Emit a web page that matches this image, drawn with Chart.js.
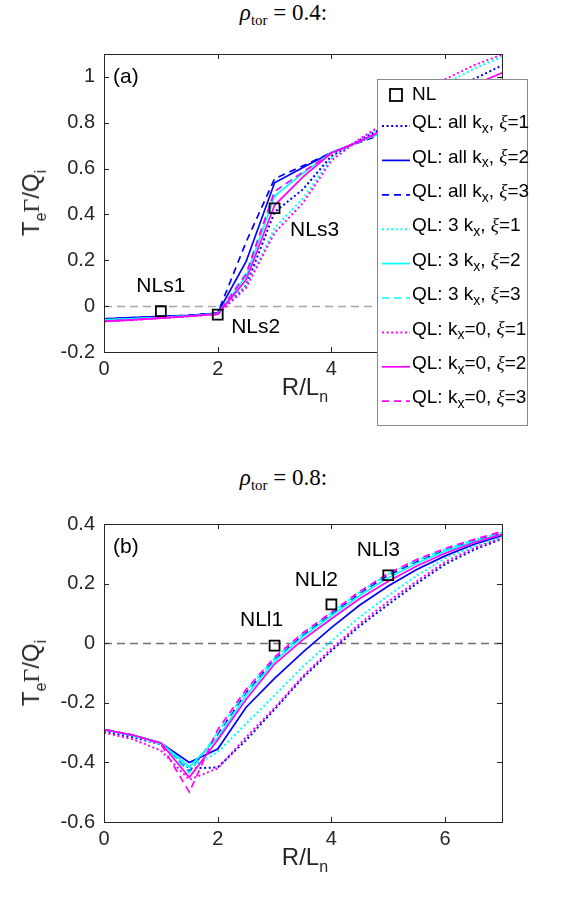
<!DOCTYPE html>
<html><head><meta charset="utf-8">
<script src="https://cdn.jsdelivr.net/npm/chart.js@4.4.0/dist/chart.umd.min.js"></script>
<style>
html,body{margin:0;padding:0;background:#fff;}
#wrap{position:relative;width:567px;height:899px;overflow:hidden;background:#fff;}
canvas{position:absolute;left:0;}
.t{position:absolute;white-space:nowrap;color:#000;line-height:1;}
.title{font-family:"Liberation Serif","DejaVu Serif",serif;font-size:23px;left:0;width:567px;text-align:center;}
.title i{font-style:italic;}
.title .sb{font-size:15px;position:relative;top:5px;}
.ax{font-family:"Liberation Sans",Arial,sans-serif;font-size:24px;color:#262626;transform:translate(-50%,-50%);}
.ax .sb{font-size:16px;position:relative;top:7px;}
.ax .g{font-family:"Liberation Serif","DejaVu Serif",serif;}
.yl{transform:translate(-50%,-50%) rotate(-90deg);}
</style>
</head><body>
<div id="wrap">
  <div class="t title" style="top:1px;"><i>ρ</i><span class="sb">tor</span> = 0.4:</div>
  <div class="t title" style="top:466px;"><i>ρ</i><span class="sb">tor</span> = 0.8:</div>
  <canvas id="c1" width="567" height="450" style="top:0;"></canvas>
  <canvas id="c2" width="567" height="449" style="top:450px;"></canvas>
  <div class="t ax yl" style="left:31px;top:203px;">T<span class="sb">e</span><span class="g">Γ</span>/Q<span class="sb">i</span></div>
  <div class="t ax yl" style="left:31px;top:673px;">T<span class="sb">e</span><span class="g">Γ</span>/Q<span class="sb">i</span></div>
  <div class="t ax" style="left:305px;top:387px;">R/L<span class="sb">n</span></div>
  <div class="t ax" style="left:305px;top:857px;">R/L<span class="sb">n</span></div>
</div>
<script>
// ---------------- DATA ----------------
const xGrid = [0, 0.5, 1, 1.5, 2, 2.5, 3, 3.5, 4, 4.5, 5, 5.5, 6, 6.5, 7];
const xTicks = [0, 2, 4, 6];
const yTicksTop = [-0.2, 0, 0.2, 0.4, 0.6, 0.8, 1];
const yTicksBot = [-0.6, -0.4, -0.2, 0, 0.2, 0.4];

const seriesNames = [
  'QL: all k_x, ξ=1', 'QL: all k_x, ξ=2', 'QL: all k_x, ξ=3',
  'QL: 3 k_x, ξ=1', 'QL: 3 k_x, ξ=2', 'QL: 3 k_x, ξ=3',
  'QL: k_x=0, ξ=1', 'QL: k_x=0, ξ=2', 'QL: k_x=0, ξ=3'
];

// panel (a): rho_tor = 0.4
const topAllXi1 = [-0.058,-0.053,-0.048,-0.042,-0.033,0.09,0.41,0.51,0.655,0.725,0.79,0.87,0.94,0.99,1.05];
const topAllXi2 = [-0.055,-0.05,-0.045,-0.04,-0.03,0.195,0.538,0.605,0.67,0.718,0.77,0.825,0.88,0.93,0.98];
const topAllXi3 = [-0.055,-0.05,-0.045,-0.04,-0.03,0.28,0.556,0.612,0.67,0.715,0.76,0.815,0.87,0.92,0.97];
const top3Xi1   = [-0.06,-0.055,-0.049,-0.043,-0.034,0.085,0.34,0.47,0.645,0.73,0.80,0.89,0.97,1.035,1.088];
const top3Xi2   = [-0.06,-0.055,-0.049,-0.043,-0.033,0.13,0.48,0.58,0.67,0.718,0.77,0.83,0.89,0.94,0.99];
const top3Xi3   = [-0.06,-0.055,-0.049,-0.043,-0.033,0.145,0.50,0.585,0.67,0.718,0.77,0.83,0.885,0.935,0.985];
const topK0Xi1  = [-0.066,-0.06,-0.052,-0.044,-0.035,0.08,0.32,0.45,0.635,0.73,0.81,0.90,0.99,1.05,1.098];
const topK0Xi2  = [-0.066,-0.06,-0.052,-0.044,-0.035,0.115,0.44,0.564,0.668,0.72,0.78,0.85,0.91,0.965,1.018];
const topK0Xi3  = [-0.066,-0.06,-0.052,-0.044,-0.035,0.14,0.50,0.585,0.668,0.718,0.775,0.84,0.90,0.95,1.0];
const nlTopX = [1, 2, 3];
const nlTopY = [-0.022, -0.037, 0.427];
const nlTopLabels = ['NLs1', 'NLs2', 'NLs3'];

// panel (b): rho_tor = 0.8
const botAllXi1 = [-0.295,-0.315,-0.34,-0.42,-0.417,-0.325,-0.222,-0.115,-0.025,0.058,0.13,0.2,0.265,0.313,0.35];
const botAllXi2 = [-0.29,-0.308,-0.335,-0.40,-0.355,-0.215,-0.118,-0.03,0.052,0.128,0.192,0.247,0.293,0.331,0.361];
const botAllXi3 = [-0.29,-0.308,-0.335,-0.43,-0.305,-0.165,-0.055,0.027,0.098,0.168,0.228,0.274,0.312,0.343,0.37];
const bot3Xi1   = [-0.29,-0.31,-0.34,-0.42,-0.365,-0.27,-0.175,-0.078,0.008,0.088,0.16,0.227,0.285,0.324,0.356];
const bot3Xi2   = [-0.29,-0.308,-0.335,-0.415,-0.318,-0.176,-0.06,0.022,0.092,0.16,0.22,0.268,0.309,0.34,0.366];
const bot3Xi3   = [-0.29,-0.308,-0.335,-0.435,-0.30,-0.16,-0.05,0.032,0.102,0.172,0.232,0.278,0.315,0.346,0.372];
const botK0Xi1  = [-0.30,-0.322,-0.36,-0.458,-0.42,-0.315,-0.217,-0.11,-0.018,0.066,0.14,0.208,0.273,0.319,0.353];
const botK0Xi2  = [-0.29,-0.308,-0.335,-0.45,-0.325,-0.188,-0.07,0.012,0.082,0.15,0.208,0.259,0.302,0.337,0.365];
const botK0Xi3  = [-0.29,-0.308,-0.338,-0.50,-0.29,-0.155,-0.047,0.035,0.104,0.174,0.234,0.281,0.318,0.348,0.375];
const nlBotX = [3, 4, 5];
const nlBotY = [-0.008, 0.13, 0.228];
const nlBotLabels = ['NLl1', 'NLl2', 'NLl3'];

// ---------------- STYLES ----------------
const SANS = "'Liberation Sans', Arial, sans-serif";
const SERIF = "'Liberation Serif', 'DejaVu Serif', serif";
Chart.defaults.font.family = SANS;
Chart.defaults.color = '#262626';

const seriesColors = ['#0000ff','#0000ff','#0000ff','#00ffff','#00ffff','#00ffff','#ff00ff','#ff00ff','#ff00ff'];
const dashFor = k => k === 0 ? [2, 2.6] : (k === 1 ? [] : [7, 5]);
const widthFor = k => k === 0 ? 2 : 1.7;

function buildDatasets(seriesArrays, nlX, nlY) {
  const ds = seriesArrays.map((arr, i) => ({
    label: seriesNames[i],
    data: xGrid.map((x, j) => ({ x, y: arr[j] })),
    showLine: true,
    borderColor: seriesColors[i],
    backgroundColor: seriesColors[i],
    borderWidth: widthFor(i % 3),
    borderDash: dashFor(i % 3),
    pointRadius: 0,
    pointHoverRadius: 0,
    tension: 0,
    fill: false,
    order: 10 - i
  }));
  ds.unshift({
    label: 'NL',
    data: nlX.map((x, j) => ({ x, y: nlY[j] })),
    showLine: false,
    pointStyle: 'rect',
    pointRadius: 7,
    borderColor: '#000',
    backgroundColor: 'rgba(0,0,0,0)',
    pointBorderWidth: 1.8,
    borderWidth: 1.8,
    order: 0
  });
  return ds;
}

function richText(ctx, str, x, y, size) {
  let cx = x;
  for (let i = 0; i < str.length; i++) {
    let ch = str[i];
    if (ch === '_') {
      ch = str[++i];
      ctx.font = Math.round(size * 0.72) + 'px ' + SANS;
      ctx.fillText(ch, cx, y + size * 0.32);
      cx += ctx.measureText(ch).width;
      continue;
    }
    ctx.font = (ch === 'ξ' ? 'italic ' : '') + size + 'px ' + (ch === 'ξ' ? SERIF : SANS);
    ctx.fillText(ch, cx, y);
    cx += ctx.measureText(ch).width;
  }
}

const framePlugin = {
  id: 'frame',
  beforeDatasetsDraw(chart, args, o) {
    const { ctx, chartArea: a, scales: { y } } = chart;
    const y0 = Math.round(y.getPixelForValue(0)) + 0.5;
    ctx.save();
    ctx.strokeStyle = o.zeroColor;
    ctx.lineWidth = 1.3;
    ctx.setLineDash([8, 5]);
    ctx.beginPath(); ctx.moveTo(a.left, y0); ctx.lineTo(a.right, y0); ctx.stroke();
    ctx.restore();
  },
  afterDatasetsDraw(chart, args, o) {
    const { ctx, chartArea: a, scales: { x, y } } = chart;
    ctx.save();
    ctx.strokeStyle = '#262626';
    ctx.lineWidth = 1;
    ctx.strokeRect(Math.round(a.left) + 0.5, Math.round(a.top) + 0.5, Math.round(a.right - a.left), Math.round(a.bottom - a.top));
    ctx.beginPath();
    const tl = 5;
    x.ticks.forEach(t => {
      const px = Math.round(x.getPixelForValue(t.value)) + 0.5;
      ctx.moveTo(px, a.bottom); ctx.lineTo(px, a.bottom - tl);
      ctx.moveTo(px, a.top); ctx.lineTo(px, a.top + tl);
    });
    y.ticks.forEach(t => {
      const py = Math.round(y.getPixelForValue(t.value)) + 0.5;
      ctx.moveTo(a.left, py); ctx.lineTo(a.left + tl, py);
      ctx.moveTo(a.right, py); ctx.lineTo(a.right - tl, py);
    });
    ctx.stroke();
    ctx.fillStyle = '#000';
    ctx.font = '21px ' + SANS;
    ctx.textAlign = 'left';
    ctx.textBaseline = 'middle';
    ctx.fillText(o.letter, a.left + 9, a.top + 23);
    ctx.textAlign = 'center';
    o.labels.forEach((lab, i) => {
      const px = x.getPixelForValue(o.nlX[i]);
      const py = y.getPixelForValue(o.nlY[i]);
      ctx.fillText(lab, px + o.offsets[i][0], py + o.offsets[i][1]);
    });
    ctx.restore();
  },
  afterDraw(chart, args, o) {
    if (!o.legend) return;
    const { ctx } = chart;
    const b = o.legend;
    ctx.save();
    ctx.fillStyle = '#fff';
    ctx.fillRect(b.x, b.y, b.w, b.h);
    ctx.strokeStyle = '#8a8a8a';
    ctx.lineWidth = 1;
    ctx.strokeRect(b.x + 0.5, b.y + 0.5, b.w, b.h);
    const dss = chart.data.datasets;
    ctx.textBaseline = 'middle';
    ctx.textAlign = 'left';
    ctx.fillStyle = '#000';
    const yNL = b.y + 16;
    ctx.strokeStyle = '#000'; ctx.lineWidth = 1.8;
    ctx.strokeRect(b.x + 13, yNL - 6, 12, 12);
    ctx.font = '19px ' + SANS;
    ctx.fillText('NL', b.x + 35, yNL);
    for (let i = 1; i < dss.length; i++) {
      const d = dss[i];
      const yy = b.y + 47 + (i - 1) * 34.4;
      ctx.strokeStyle = d.borderColor;
      ctx.lineWidth = d.borderWidth;
      ctx.setLineDash(d.borderDash);
      ctx.beginPath(); ctx.moveTo(b.x + 5, yy); ctx.lineTo(b.x + 33, yy); ctx.stroke();
      ctx.setLineDash([]);
      ctx.fillStyle = '#000';
      richText(ctx, d.label, b.x + 35, yy - 3, 19);
    }
    ctx.restore();
  }
};

function makeChart(id, datasets, yMin, yMax, yTicks, padTop, padBottom, frameOpts) {
  return new Chart(document.getElementById(id), {
    type: 'scatter',
    data: { datasets },
    plugins: [framePlugin],
    options: {
      responsive: false,
      animation: false,
      devicePixelRatio: 1,
      layout: { padding: { left: 0, right: 65, top: padTop, bottom: padBottom } },
      plugins: { legend: { display: false }, tooltip: { enabled: false }, frame: frameOpts },
      scales: {
        x: {
          type: 'linear', min: 0, max: 7,
          grid: { display: false, drawTicks: false },
          border: { display: false },
          afterBuildTicks: s => { s.ticks = xTicks.map(v => ({ value: v })); },
          afterFit: s => { s.height = 30; },
          ticks: { font: { size: 20 }, padding: 5, color: '#262626', maxRotation: 0,
                   callback: v => String(v) }
        },
        y: {
          type: 'linear', min: yMin, max: yMax,
          grid: { display: false, drawTicks: false },
          border: { display: false },
          afterBuildTicks: s => { s.ticks = yTicks.map(v => ({ value: v })); },
          afterFit: s => { s.width = 104; },
          ticks: { font: { size: 20 }, padding: 9, color: '#262626',
                   callback: v => String(Math.round(v * 10) / 10) }
        }
      }
    }
  });
}

makeChart('c1',
  buildDatasets([topAllXi1, topAllXi2, topAllXi3, top3Xi1, top3Xi2, top3Xi3, topK0Xi1, topK0Xi2, topK0Xi3], nlTopX, nlTopY),
  -0.2, 1.1, yTicksTop, 54, 450 - 352 - 30,
  { zeroColor: '#a8a8a8', letter: '(a)', labels: nlTopLabels, nlX: nlTopX, nlY: nlTopY,
    offsets: [[0, -25], [38, 13], [40, 22]],
    legend: { x: 377, y: 79, w: 150, h: 346 } });

makeChart('c2',
  buildDatasets([botAllXi1, botAllXi2, botAllXi3, bot3Xi1, bot3Xi2, bot3Xi3, botK0Xi1, botK0Xi2, botK0Xi3], nlBotX, nlBotY),
  -0.6, 0.4, yTicksBot, 74, 449 - 372 - 30,
  { zeroColor: '#707070', letter: '(b)', labels: nlBotLabels, nlX: nlBotX, nlY: nlBotY,
    offsets: [[-13, -25], [-15, -24], [-10, -25]], legend: null });
</script>
</body></html>
